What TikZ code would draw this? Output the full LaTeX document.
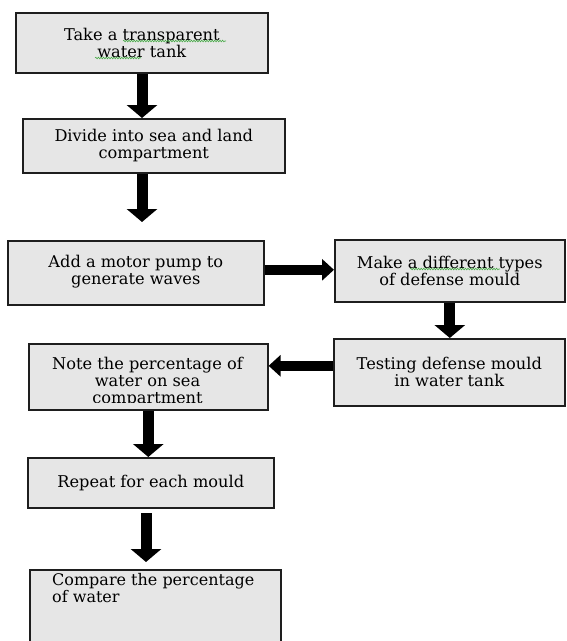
\documentclass[tikz,border=0pt]{standalone}
\usepackage{fontspec}
\setmainfont{DejaVu Serif}
\usetikzlibrary{arrows.meta,decorations.pathmorphing}
\definecolor{boxgray}{RGB}{230,230,230}
\definecolor{edgegray}{RGB}{30,30,30}
\definecolor{squiggle}{RGB}{70,170,70}
\begin{document}
\begin{tikzpicture}[x=1pt,y=-1pt,
  box/.style={draw=edgegray,line width=1.6pt,fill=boxgray,rectangle,inner sep=0pt,anchor=north west},
  txt/.style={align=center,font=\fontsize{16.2}{17}\selectfont,inner sep=0pt},
  blockarrow/.style={line width=11pt,-{Triangle[width=30pt 0,length=13pt 0]}},
  sidearrow/.style={line width=10pt,-{Triangle[width=21pt 0,length=12pt 0]}},
  spell/.style={draw=squiggle,line width=0.6pt,decorate,decoration={snake,amplitude=0.8pt,segment length=2.6pt}}
]
\useasboundingbox (0,0) rectangle (566,641);
% boxes
\node[box,minimum width=252pt,minimum height=60pt] (b1) at (15,12) {};
\node[box,minimum width=262pt,minimum height=54pt] (b2) at (22,118) {};
\node[box,minimum width=256pt,minimum height=64pt] (b3) at (7,240) {};
\node[box,minimum width=230pt,minimum height=62pt] (b4) at (334,239) {};
\node[box,minimum width=231pt,minimum height=67pt] (b5) at (333,338) {};
\node[box,minimum width=239pt,minimum height=66pt] (b6) at (28,343) {};
\node[box,minimum width=246pt,minimum height=50pt] (b7) at (27,457) {};
\node[box,minimum width=251pt,minimum height=80pt] (b8) at (29,569) {};
% texts
\node[txt] (t1) at (b1) {Take a transparent\\water tank};
\node[txt] (t2) at (b2) {Divide into sea and land\\compartment};
\node[txt] (t3) at ([yshift=1.5pt]b3.center) {Add a motor pump to\\generate waves};
\node[txt] (t4) at (b4) {Make a different types\\of defense mould};
\node[txt] (t5) at (b5) {Testing defense mould\\in water tank};
\begin{scope}
  \clip (30,345) rectangle (265,402);
  \node[txt] (t6) at (147.5,382) {Note the percentage of\\water on sea\\compartment};
\end{scope}
\node[txt] (t7) at (b7) {Repeat for each mould};
\node[anchor=base west,align=left,inner sep=0pt,font=\fontsize{16}{13}\selectfont] (t8) at (52,602) {Compare the percentage\\of water};
% spell-check underlines
\draw[spell] (123,41) -- (226,41);
\draw[spell] (95,58) -- (141,58);
\draw[spell] (410,269) -- (500,269);
% arrows
\coordinate (a2end) at (142,222);
\coordinate (a7s) at (146,513);
\coordinate (a7e) at (146,562);
\draw[blockarrow] (b1.south -| a2end) -- (a2end |- b2.north);
\draw[blockarrow] (a2end |- b2.south) -- (a2end);
\draw[sidearrow] ([yshift=3pt]b3.east) -- ([yshift=3pt]b3.east -| b4.west);
\draw[blockarrow] (b4.south) -- (b4.south |- b5.north);
\draw[sidearrow] ([yshift=6.5pt]b5.west) -- ([yshift=6.5pt]b5.west -| b6.east);
\draw[blockarrow] (b6.south) -- (b6.south |- b7.north);
\draw[blockarrow] (a7s) -- (a7e);
\end{tikzpicture}
\end{document}
